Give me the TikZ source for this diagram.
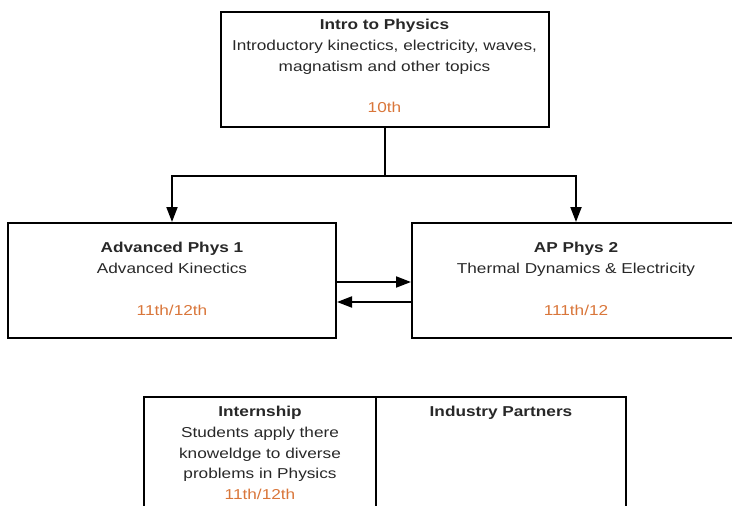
\documentclass[tikz,border=0pt]{standalone}
\usepackage{fontspec}
\setmainfont{Liberation Sans}[FakeStretch=1.2]
\usetikzlibrary{arrows.meta,positioning}
\definecolor{inktext}{HTML}{282828}
\definecolor{gradeorange}{HTML}{D9763A}

\begin{document}
\begin{tikzpicture}[x=1pt,y=-1pt,
    box/.style={draw,line width=2pt,minimum width=328pt,minimum height=115pt,inner sep=0pt},
    cell/.style={draw,line width=2pt,minimum height=140pt,inner sep=0pt,anchor=north west},
    txt/.style={align=center,inner sep=0pt,text=inktext,font=\fontsize{14.35}{20.75}\selectfont},
    link/.style={line width=2pt},
    flow/.style={link,-{Triangle[length=15pt,width=11pt]}}]
  \clip (0,0) rectangle (732,506);

  % course boxes
  \node[box] (intro) at (384.5,69.5) {};
  \node[box] (adv1) at (172,280.5) {};
  \node[box] (ap2) at (576,280.5) {};
  \node[cell,minimum width=232pt] (intern) at (143,396) {};
  \node[cell,minimum width=250pt] (partners) at (375,396) {};

  \node[txt,below=8pt of intro.north] (introtxt) {\textbf{Intro to Physics}\\ Introductory kinectics, electricity, waves,\\ magnatism and other topics\\[21pt] \textcolor{gradeorange}{10th}};
  \node[txt,below=20pt of adv1.north] (adv1txt) {\textbf{Advanced Phys 1}\\ Advanced Kinectics\\[21pt] \textcolor{gradeorange}{11th/12th}};
  \node[txt,below=20pt of ap2.north] (ap2txt) {\textbf{AP Phys 2}\\ Thermal Dynamics \& Electricity\\[21pt] \textcolor{gradeorange}{111th/12}};
  \node[txt,below=10pt of intern.north] (interntxt) {\textbf{Internship}\\ Students apply there\\ knoweldge to diverse\\ problems in Physics\\ \textcolor{gradeorange}{11th/12th}};
  \node[txt,below=10pt of partners.north] (partnerstxt) {\textbf{Industry Partners}};

  % connectors
  \draw[link] (intro.south) -- ++(0,48) coordinate (split);
  \draw[flow] (split) -| (adv1.north);
  \draw[flow] (split) -| (ap2.north);
  \draw[flow] ([yshift=-1.5pt]adv1.east) -- ([yshift=-1.5pt]ap2.west);
  \draw[flow] ([yshift=-21.5pt]ap2.west) -- ([yshift=-21.5pt]adv1.east);
\end{tikzpicture}
\end{document}
